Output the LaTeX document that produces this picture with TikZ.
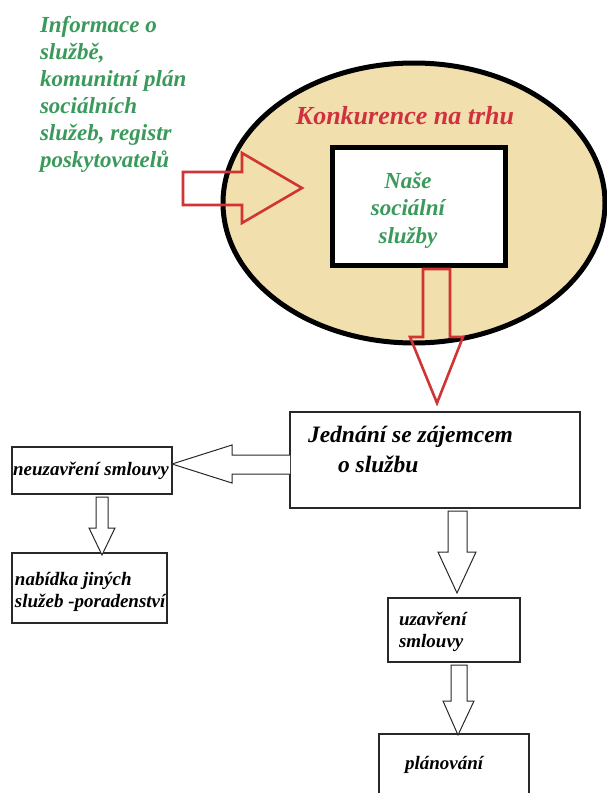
\documentclass[tikz,border=0pt]{standalone}
\usepackage{fontspec}
\setmainfont{Liberation Serif}
\usetikzlibrary{shapes.geometric}
\definecolor{leafgreen}{RGB}{58,154,91}
\definecolor{marketred}{RGB}{208,49,63}
\definecolor{arrowred}{RGB}{208,52,52}
\definecolor{sand}{RGB}{241,223,174}
\definecolor{ink}{RGB}{40,40,40}
\begin{document}
\begin{tikzpicture}[x=1pt,y=-1pt,
  every node/.style={inner sep=0pt, outer sep=0pt},
  txt/.style={font=\bfseries\itshape\fontsize{#1}{#1}\selectfont},
  box/.style={draw=ink, line width=1.3pt, fill=white, rectangle},
  redarrow/.style={draw=arrowred, line width=2.6pt, line join=miter},
  blkarrow/.style={draw=ink, line width=1pt, line join=miter, fill=white}]
\useasboundingbox (0,0) rectangle (606,793);
\fill[white] (0,0) rectangle (606,793);

% market ellipse with our service in the middle
\node[draw=black, line width=5pt, fill=sand, ellipse, minimum width=382pt, minimum height=280pt] (market) at (414,203) {};
\node[txt=26, text=marketred, anchor=center] (marketlbl) at (405,116) {Konkurence na trhu};
\node[draw=black, line width=5pt, fill=white, minimum width=173pt, minimum height=118pt] (ours) at (418.5,206) {};
\node[text=leafgreen, align=center, font=\bfseries\itshape\fontsize{23}{27.5}\selectfont] (ourslbl) at (408,210) {Naše\\sociální\\služby};

% information sources
\node[text=leafgreen, align=left, anchor=north west, font=\bfseries\itshape\fontsize{23}{27}\selectfont] (info) at (40,16)
  {Informace o\\službě,\\komunitní plán\\sociálních\\služeb, registr\\poskytovatelů};

% red block arrows
\draw[redarrow] (183,172) -- (242,172) -- (242,153) -- (302,188) -- (242,223) -- (242,205) -- (183,205) -- cycle;

% negotiation and outcomes
\node[box, minimum width=290pt, minimum height=96pt] (talk) at (435,460) {};
\node[txt=23.5, anchor=west] (talk1) at (308,437) {Jednání se zájemcem};
\node[txt=23.5, anchor=west] (talk2) at (338,464) {o službu};

\draw[redarrow] (423,269) -- (450,269) -- (450,337) -- (463,337) -- (437,403) -- (410,337) -- (423,337) -- cycle;

\node[box, minimum width=160pt, minimum height=47pt] (nocontract) at (92,470.5) {};
\node[txt=19] (nocontractlbl) at (91,471) {neuzavření smlouvy};

\node[box, minimum width=155pt, minimum height=70pt] (offer) at (89.5,588) {};
\node[align=left, anchor=west, font=\bfseries\itshape\fontsize{19}{21.5}\selectfont] (offerlbl) at (15,592) {nabídka jiných\\služeb -poradenství};

\node[box, minimum width=132pt, minimum height=64pt] (contract) at (454,630) {};
\node[align=left, anchor=west, font=\bfseries\itshape\fontsize{19}{21.5}\selectfont] (contractlbl) at (399,632) {uzavření\\smlouvy};

\node[box, minimum width=150pt, minimum height=80pt] (plan) at (454,774) {};
\node[txt=19, anchor=west] (planlbl) at (405,765) {plánování};

% hollow black arrows between the steps
\draw[blkarrow] (talk.west |- 0,455) -- (232,455) -- (232,445) -- (nocontract.east |- 0,464) -- (232,483) -- (232,474) -- (talk.west |- 0,474);
\draw[blkarrow] (96,497) -- (96,528) -- (89,528) -- (102,555) -- (115,528) -- (108,528) -- (108,497) -- cycle;
\draw[blkarrow] (448,511) -- (448,552) -- (438,552) -- (457,593) -- (476,552) -- (467,552) -- (467,511) -- cycle;
\draw[blkarrow] (451,665) -- (451,701) -- (443,701) -- (458,735) -- (474,701) -- (467,701) -- (467,665) -- cycle;
\end{tikzpicture}
\end{document}
